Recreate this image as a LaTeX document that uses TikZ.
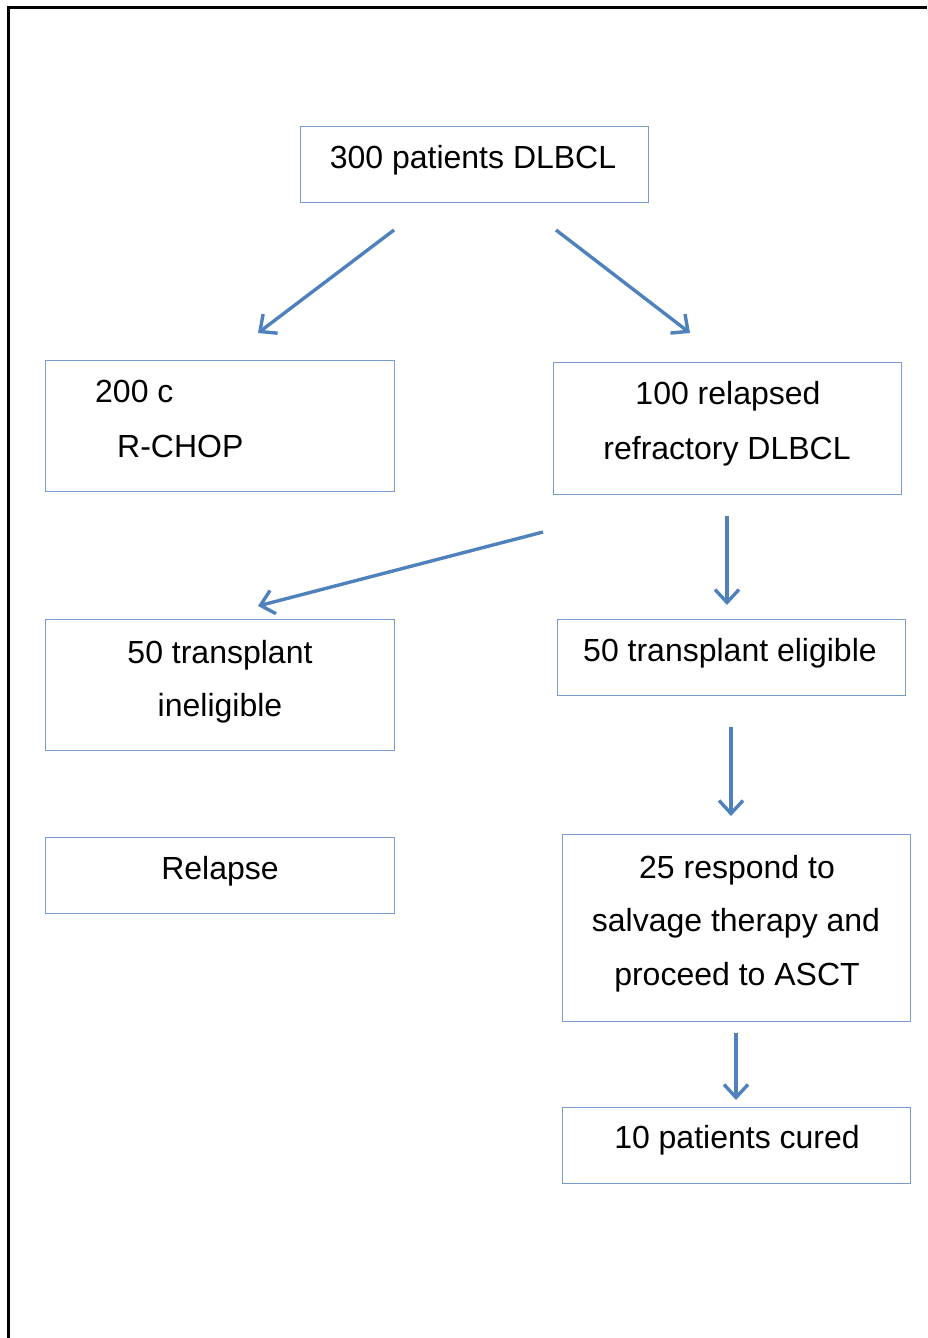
\documentclass[tikz,border=0pt]{standalone}
\usepackage{fontspec}
\setmainfont{Liberation Sans}
\usetikzlibrary{arrows.meta}
\definecolor{arrowblue}{RGB}{79,129,189}
\definecolor{boxblue}{RGB}{120,155,210}
\begin{document}
\begin{tikzpicture}[x=1pt,y=1pt,
  box/.style={draw=boxblue, line width=1pt, rectangle, inner sep=0pt},
  txt/.style={font=\fontsize{32}{38}\selectfont, text=black, inner sep=0pt, anchor=base},
  flow/.style={draw=arrowblue, line width=3.4pt, -{Straight Barb[length=13pt,width=24pt,line width=3.4pt]}}
]
\useasboundingbox (0,0) rectangle (927,-1338);
% frame
\draw[line width=2.2pt, black] (8.5,-1338) -- (8.5,-7.5) -- (927,-7.5);

% boxes
\node[box, minimum width=348pt, minimum height=76pt] (b1) at (474,-164) {};
\node[box, minimum width=349pt, minimum height=131pt] (b2) at (219.5,-425.5) {};
\node[box, minimum width=348pt, minimum height=132pt] (b3) at (727,-428) {};
\node[box, minimum width=349pt, minimum height=131pt] (b4) at (219.5,-684.5) {};
\node[box, minimum width=348pt, minimum height=76pt] (b5) at (731,-657) {};
\node[box, minimum width=349pt, minimum height=76pt] (b6) at (219.5,-875) {};
\node[box, minimum width=348pt, minimum height=187pt] (b7) at (736,-927.5) {};
\node[box, minimum width=348pt, minimum height=76pt] (b8) at (736,-1145) {};

% texts
\node[txt] (t1) at (473,-168) {300 patients DLBCL};
\node[txt, anchor=base west] (t2a) at (95,-402) {200 c};
\node[txt, anchor=base west] (t2b) at (117,-457) {R-CHOP};
\node[txt] (t3a) at (728,-404) {100 relapsed};
\node[txt] (t3b) at (727,-459) {refractory DLBCL};
\node[txt] (t4a) at (220,-663) {50 transplant};
\node[txt] (t4b) at (220,-716) {ineligible};
\node[txt] (t5) at (730,-661) {50 transplant eligible};
\node[txt] (t6) at (220,-879) {Relapse};
\node[txt] (t7a) at (737,-878) {25 respond to};
\node[txt] (t7b) at (736,-931) {salvage therapy and};
\node[txt] (t7c) at (737,-985) {proceed to ASCT};
\node[txt] (t8) at (737,-1148) {10 patients cured};

% arrow end points
\coordinate (a1s) at (394,-230); \coordinate (a1e) at (258,-333);
\coordinate (a2s) at (556,-230); \coordinate (a2e) at (690,-333);
\coordinate (a3s) at (543,-532); \coordinate (a3e) at (258,-606);
\coordinate (a4s) at (727,-516); \coordinate (a4e) at (727,-605);
\coordinate (a5s) at (731,-727); \coordinate (a5e) at (731,-816);
\coordinate (a6s) at (736,-1033); \coordinate (a6e) at (736,-1100);

\draw[flow] (a1s) -- (a1e);
\draw[flow] (a2s) -- (a2e);
\draw[flow] (a3s) -- (a3e);
\draw[flow] (a4s) -- (a4e);
\draw[flow] (a5s) -- (a5e);
\draw[flow] (a6s) -- (a6e);
\end{tikzpicture}
\end{document}
